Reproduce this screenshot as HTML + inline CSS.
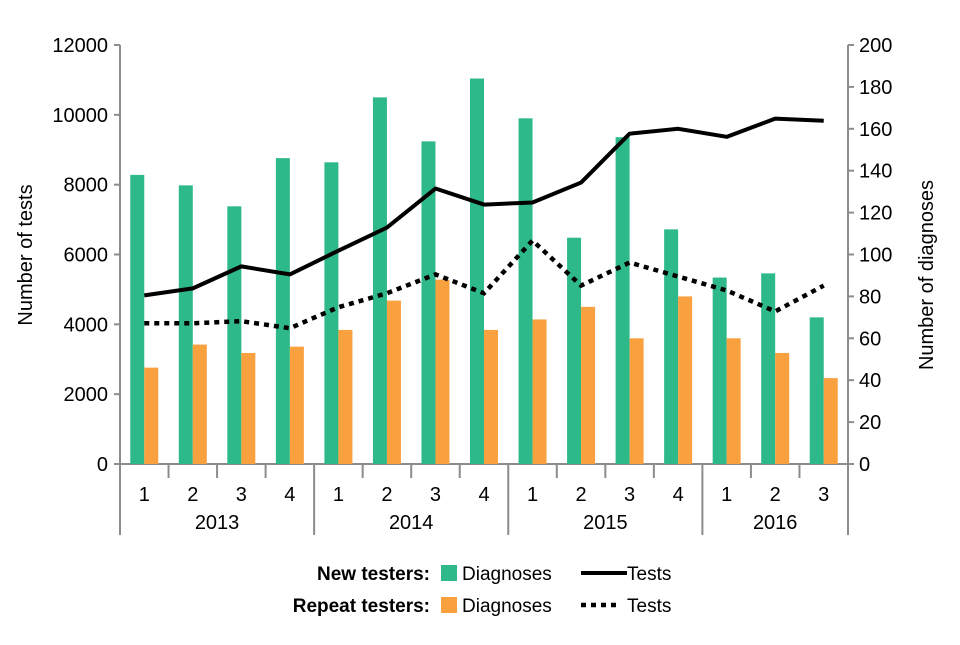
<!DOCTYPE html>
<html><head><meta charset="utf-8"><style>
body{margin:0;background:#fff;width:960px;height:640px;overflow:hidden}
svg text{font-family:"Liberation Sans",Arial,sans-serif;fill:#000}
</style></head><body>
<svg id="chart" width="960" height="640">
<g id="axes"></g><g id="bars"></g><g id="lines"></g>
</svg>
<script>
const years = ["2013","2014","2015","2016"];
const quarters = ["1","2","3","4","1","2","3","4","1","2","3","4","1","2","3"];
const newDiagnoses = [138,133,123,146,144,175,154,184,165,108,156,112,89,91,70];
const repeatDiagnoses = [46,57,53,56,64,78,88,64,69,75,60,80,60,53,41];
const newTests = [4830,5030,5660,5430,6110,6770,7890,7430,7490,8060,9460,9600,9370,9890,9830];
const repeatTests = [4030,4030,4090,3890,4490,4890,5430,4890,6400,5110,5770,5370,4970,4370,5110];
const leftTicks = [0,2000,4000,6000,8000,10000,12000];
const rightTicks = [0,20,40,60,80,100,120,140,160,180,200];

const NS="http://www.w3.org/2000/svg";
const X0=120,X1=848,Y0=464,YT=45;
const step=(X1-X0)/quarters.length;
const xc=i=>X0+step*(i+0.5);
const yL=v=>Y0-(v/12000)*(Y0-YT);
const yR=v=>Y0-(v/200)*(Y0-YT);
function mk(t,a,p){const e=document.createElementNS(NS,t);for(const k in a)e.setAttribute(k,a[k]);p.appendChild(e);return e;}
const axes=document.getElementById('axes'),bars=document.getElementById('bars'),lines=document.getElementById('lines');
const ax="#8c8c8c";
const FS=20;
let e;
e=mk('line',{x1:X0,y1:YT,x2:X0,y2:Y0,stroke:ax,'stroke-width':2},axes);


e=mk('line',{x1:X1,y1:YT,x2:X1,y2:Y0,stroke:ax,'stroke-width':2},axes);


e=mk('line',{x1:X0,y1:Y0,x2:X1,y2:Y0,stroke:ax,'stroke-width':2},axes);


leftTicks.forEach(v=>{
  mk('line',{x1:X0-6,x2:X0,y1:yL(v),y2:yL(v),stroke:ax,'stroke-width':2},axes);
  e=mk('text',{x:X0-12,y:yL(v)+7,'text-anchor':'end','font-size':FS},axes);e.textContent=v;
  
  
});
rightTicks.forEach(v=>{
  mk('line',{x1:X1,x2:X1+6,y1:yR(v),y2:yR(v),stroke:ax,'stroke-width':2},axes);
  e=mk('text',{x:X1+11,y:yR(v)+7,'font-size':FS},axes);e.textContent=v;
  
  
});
for(let i=0;i<=quarters.length;i++){
  const x=X0+step*i, yr=(i%4===0)||i===quarters.length;
  mk('line',{x1:x,x2:x,y1:Y0,y2:yr?535:478,stroke:ax,'stroke-width':2},axes);
}
quarters.forEach((q,i)=>{
  e=mk('text',{x:xc(i),y:501,'text-anchor':'middle','font-size':FS},axes);e.textContent=q;
  
  
});
years.forEach((y,k)=>{
  const n=Math.min(4,quarters.length-4*k);
  e=mk('text',{x:X0+step*(4*k+n/2),y:529,'text-anchor':'middle','font-size':FS},axes);e.textContent=y;
  
  
});
e=mk('text',{x:0,y:0,'text-anchor':'middle','font-size':FS,transform:'translate(32,255) rotate(-90)'},axes);e.textContent='Number of tests';


e=mk('text',{x:0,y:0,'text-anchor':'middle','font-size':FS,transform:'translate(933,275) rotate(-90)'},axes);e.textContent='Number of diagnoses';


const bw=14;
newDiagnoses.forEach((v,i)=>{
  e=mk('rect',{x:xc(i)-bw,y:yR(v),width:bw,height:Y0-yR(v),fill:'#2eb98a'},bars);
  
  
});
repeatDiagnoses.forEach((v,i)=>{
  e=mk('rect',{x:xc(i),y:yR(v),width:bw,height:Y0-yR(v),fill:'#f9a03f'},bars);
  
  
});
e=mk('polyline',{points:newTests.map((v,i)=>xc(i)+','+yL(v)).join(' '),fill:'none',stroke:'#000','stroke-width':4,'stroke-linejoin':'round'},lines);


e=mk('polyline',{points:repeatTests.map((v,i)=>xc(i)+','+yL(v)).join(' '),fill:'none',stroke:'#000','stroke-width':4.5,'stroke-dasharray':'5 5'},lines);


</script>
<svg width="960" height="640" style="position:absolute;left:0;top:0">
<text x="430" y="580" text-anchor="end" font-size="19" font-weight="bold">New testers:</text>
<rect x="441" y="565" width="16" height="16" fill="#2eb98a"/>
<text x="462" y="580" font-size="19">Diagnoses</text>
<line x1="581" y1="573" x2="627" y2="573" stroke="#000" stroke-width="4"/>
<text x="627" y="580" font-size="19">Tests</text>
<text x="430" y="612" text-anchor="end" font-size="19" font-weight="bold">Repeat testers:</text>
<rect x="441" y="597" width="16" height="16" fill="#f9a03f"/>
<text x="462" y="612" font-size="19">Diagnoses</text>
<line x1="581" y1="605" x2="620" y2="605" stroke="#000" stroke-width="4.5" stroke-dasharray="5 5"/>
<text x="627" y="612" font-size="19">Tests</text>
</svg>
</body></html>
